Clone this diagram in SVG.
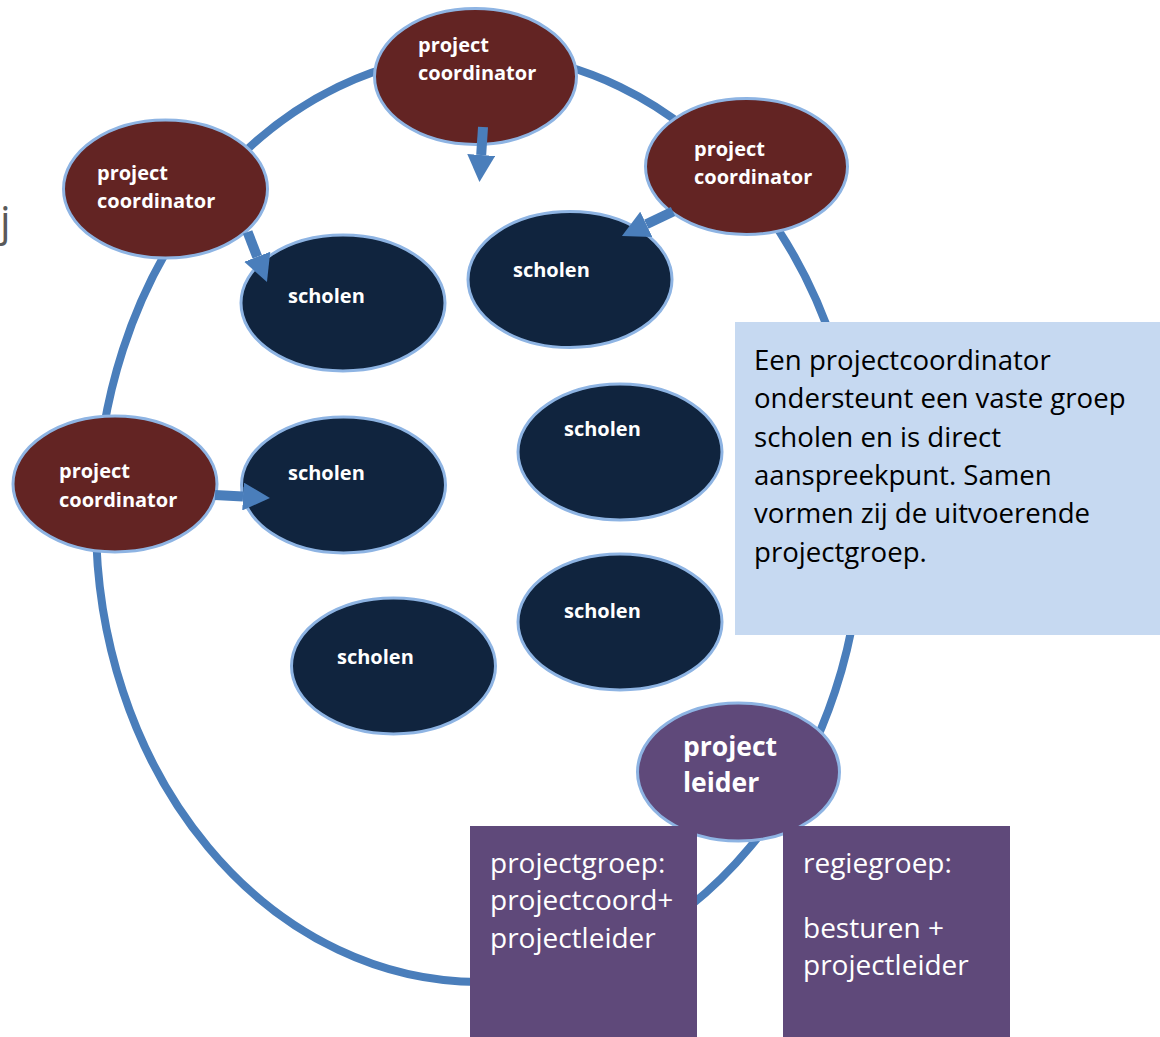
<svg xmlns="http://www.w3.org/2000/svg" width="1160" height="1037" viewBox="0 0 1160 1037">
  <defs>
    <style>
      .ring { fill: none; stroke: #4a7ebb; stroke-width: 8; }
      .coord { fill: #632423; stroke: #8eb4e3; stroke-width: 3; }
      .school { fill: #10243e; stroke: #8eb4e3; stroke-width: 3; }
      .leader { fill: #5f497a; stroke: #8eb4e3; stroke-width: 3; }
      .box { fill: #5f497a; }
      .info { fill: #c6d9f1; }
      .nt { font-family: "Open Sans", "Noto Sans", sans-serif; font-weight: bold; font-size: 20px; fill: #ffffff; }
      .lt { font-family: "Open Sans", "Noto Sans", sans-serif; font-weight: bold; font-size: 26.5px; fill: #ffffff; }
      .bt { font-family: "Open Sans", "Noto Sans", sans-serif; font-size: 28px; fill: #ffffff; }
      .it { font-family: "Open Sans", "Noto Sans", sans-serif; font-size: 27.6px; fill: #000000; }
      .arrow { fill: none; stroke: #4a7ebb; stroke-width: 10; stroke-linecap: butt; }
    </style>
    <marker id="head" markerUnits="userSpaceOnUse" viewBox="0 0 27 28" markerWidth="27" markerHeight="28" refX="0" refY="14" orient="auto">
      <path d="M0,0 L27,14 L0,28 Z" fill="#4a7ebb"/>
    </marker>
  </defs>

  <rect width="1160" height="1037" fill="#ffffff"/>

  <text x="0" y="236" font-family="Open Sans, sans-serif" font-size="42" fill="#595959">j</text>

  <g id="ring">
    <path class="ring" d="M96,522 A383,468 0 0 1 862,522 A383,460 0 0 1 96,522 Z"/>
  </g>

  <g id="coord-top">
    <ellipse class="coord" cx="475.5" cy="76.5" rx="101" ry="68"/>
    <text class="nt" x="418" y="52">project</text>
    <text class="nt" x="418" y="80">coordinator</text>
  </g>
  <g id="coord-left-top">
    <ellipse class="coord" cx="165.5" cy="189" rx="102" ry="69"/>
    <text class="nt" x="97" y="180">project</text>
    <text class="nt" x="97" y="208">coordinator</text>
  </g>
  <g id="coord-right">
    <ellipse class="coord" cx="746.5" cy="166.5" rx="101" ry="68"/>
    <text class="nt" x="694" y="156">project</text>
    <text class="nt" x="694" y="184">coordinator</text>
  </g>
  <g id="coord-left-mid">
    <ellipse class="coord" cx="115" cy="484" rx="102" ry="68"/>
    <text class="nt" x="59" y="478">project</text>
    <text class="nt" x="59" y="507">coordinator</text>
  </g>

  <g id="school-1">
    <ellipse class="school" cx="343" cy="303" rx="102" ry="68"/>
    <text class="nt" x="288" y="303">scholen</text>
  </g>
  <g id="school-2">
    <ellipse class="school" cx="570" cy="279.5" rx="102" ry="68"/>
    <text class="nt" x="513" y="277">scholen</text>
  </g>
  <g id="school-3">
    <ellipse class="school" cx="343.5" cy="485" rx="102" ry="68"/>
    <text class="nt" x="288" y="480">scholen</text>
  </g>
  <g id="school-4">
    <ellipse class="school" cx="393.5" cy="666" rx="102" ry="68"/>
    <text class="nt" x="337" y="664">scholen</text>
  </g>
  <g id="school-5">
    <ellipse class="school" cx="620" cy="452" rx="102" ry="68"/>
    <text class="nt" x="564" y="436">scholen</text>
  </g>
  <g id="school-6">
    <ellipse class="school" cx="620" cy="622" rx="102" ry="68"/>
    <text class="nt" x="564" y="618">scholen</text>
  </g>

  <g id="project-leider">
    <ellipse class="leader" cx="738.5" cy="772" rx="101" ry="69"/>
    <text class="lt" x="683" y="756">project</text>
    <text class="lt" x="683" y="792">leider</text>
  </g>

  <g id="projectgroep">
    <rect class="box" x="470" y="826" width="227" height="211"/>
    <text class="bt" x="490" y="873">projectgroep:</text>
    <text class="bt" x="490" y="910">projectcoord+</text>
    <text class="bt" x="490" y="948">projectleider</text>
  </g>

  <g id="regiegroep">
    <rect class="box" x="783" y="826" width="227" height="211"/>
    <text class="bt" x="803" y="873">regiegroep:</text>
    <text class="bt" x="803" y="938">besturen +</text>
    <text class="bt" x="803" y="975">projectleider</text>
  </g>

  <g id="info">
    <rect class="info" x="735" y="322" width="425" height="313"/>
    <text class="it" x="754" y="370">Een projectcoordinator</text>
    <text class="it" x="754" y="408">ondersteunt een vaste groep</text>
    <text class="it" x="754" y="447">scholen en is direct</text>
    <text class="it" x="754" y="485">aanspreekpunt. Samen</text>
    <text class="it" x="754" y="523">vormen zij de uitvoerende</text>
    <text class="it" x="754" y="562">projectgroep.</text>
  </g>

  <g id="connectors">
    <line class="arrow" x1="483" y1="127" x2="481.2" y2="155" marker-end="url(#head)"/>
    <line class="arrow" x1="247.6" y1="232" x2="257.2" y2="256.8" marker-end="url(#head)"/>
    <line class="arrow" x1="673" y1="211.5" x2="646.3" y2="224.3" marker-end="url(#head)"/>
    <line class="arrow" x1="215" y1="495" x2="243" y2="496.5" marker-end="url(#head)"/>
  </g>
</svg>
